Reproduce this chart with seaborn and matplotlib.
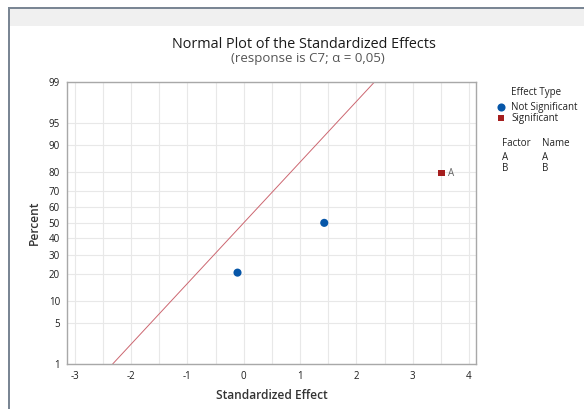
import matplotlib
matplotlib.use("Agg")
import matplotlib.pyplot as plt
from matplotlib.patches import Rectangle
from matplotlib.ticker import MultipleLocator
from statistics import NormalDist
import pandas as pd
import seaborn as sns

# effects
effect = [-0.11, 1.43, 3.51]
percent = [20.6, 50.0, 79.4]
effect_type = ["Not Significant", "Not Significant", "Significant"]
point_label = ["", "", "A"]
y_ticks = [1, 5, 10, 20, 30, 40, 50, 60, 70, 80, 90, 95, 99]
factors = ["A", "B"]
names = ["A", "B"]

z = NormalDist().inv_cdf
df = pd.DataFrame({"Effect": effect, "z": [z(p / 100) for p in percent],
                   "Type": effect_type, "Label": point_label})

sns.set_style("white")
plt.rcParams["font.family"] = ["Open Sans", "DejaVu Sans"]
plt.rcParams["axes.unicode_minus"] = False

fig = plt.figure(figsize=(5.84, 4.09), dpi=100)
W, H = 584, 409

# window frame of the screenshot
fig.patches.append(Rectangle((8 / W, 1 - 26 / H), 1, 17 / H, transform=fig.transFigure,
                             facecolor="#F0F0F0", edgecolor="none", zorder=0))
fig.patches.append(Rectangle((8 / W, 1 - 9 / H), 1, 2 / H, transform=fig.transFigure,
                             facecolor="#7A8694", edgecolor="none", zorder=1))
fig.patches.append(Rectangle((8 / W, 0), 2 / W, 1 - 7 / H, transform=fig.transFigure,
                             facecolor="#7A8694", edgecolor="none", zorder=1))

ax = fig.add_axes([67 / W, 1 - 364 / H, (476 - 67) / W, (364 - 81.7) / H])

# reference line: z = effect
ax.axline((0, 0), slope=1, color="#CC6670", lw=0.7, zorder=2)

order = ["Not Significant", "Significant"]
sns.scatterplot(data=df, x="Effect", y="z", hue="Type", style="Type", size="Type",
                hue_order=order, style_order=order, size_order=order,
                palette=["#0656A8", "#A51E1E"], markers=["o", "s"],
                sizes={"Not Significant": 34, "Significant": 20},
                linewidth=0, ax=ax, zorder=3, legend=True)

for _, r in df.iterrows():
    if r["Label"]:
        ax.annotate(r["Label"], (r["Effect"], r["z"]), xytext=(5, 0), textcoords="offset points",
                    va="center", fontsize=7, color="#666666")

ax.set_xlim(-3.137, 4.124)
ax.set_ylim(z(0.01), z(0.99))
ax.set_yticks([z(t / 100) for t in y_ticks])
ax.set_yticklabels([str(t) for t in y_ticks])
ax.xaxis.set_major_locator(MultipleLocator(1))
ax.xaxis.set_minor_locator(MultipleLocator(0.5))
ax.grid(True, which="both", color="#E8E8E8", lw=0.8)
ax.set_axisbelow(True)
for s in ax.spines.values():
    s.set_color("#A8A8A8")
    s.set_linewidth(1.0)
ax.tick_params(axis="both", which="major", direction="out", length=3, width=0.8,
               color="#A8A8A8", labelsize=7, labelcolor="#1E1E1E", pad=2)
ax.tick_params(axis="x", which="minor", length=0)
ax.set_xlabel("Standardized Effect", fontsize=8.6, fontweight="semibold",
              color="#333333", labelpad=5)
ax.set_ylabel("Percent", fontsize=8.6, fontweight="semibold", color="#333333", labelpad=6)

# legend
handles, labels = ax.get_legend_handles_labels()
leg = ax.legend(handles, labels, loc="upper left",
                bbox_to_anchor=(490 / W, 1 - 97.5 / H), bbox_transform=fig.transFigure,
                frameon=False, fontsize=7, handletextpad=0.5,
                borderpad=0, labelspacing=0.0, handlelength=1.2)
for t in leg.get_texts():
    t.set_color("#222222")
fig.text(511 / W, 1 - 93 / H, "Effect Type", fontsize=7, color="#222222", va="center")

fig.text(502 / W, 1 - 143.5 / H, "Factor", fontsize=7, color="#222222", va="center")
fig.text(542 / W, 1 - 143.5 / H, "Name", fontsize=7, color="#222222", va="center")
for i, (f, n) in enumerate(zip(factors, names)):
    fig.text(502 / W, 1 - (157 + 11.5 * i) / H, f, fontsize=7, color="#222222", va="center")
    fig.text(542 / W, 1 - (157 + 11.5 * i) / H, n, fontsize=7, color="#222222", va="center")

fig.text(304 / W, 1 - 45 / H, "Normal Plot of the Standardized Effects", ha="center",
         va="center", fontsize=10.4, color="#1A1A1A")
fig.text(308 / W, 1 - 58.5 / H, "(response is C7; α = 0,05)", ha="center",
         va="center", fontsize=9.5, color="#555555")

fig.savefig("out.png", dpi=100)
